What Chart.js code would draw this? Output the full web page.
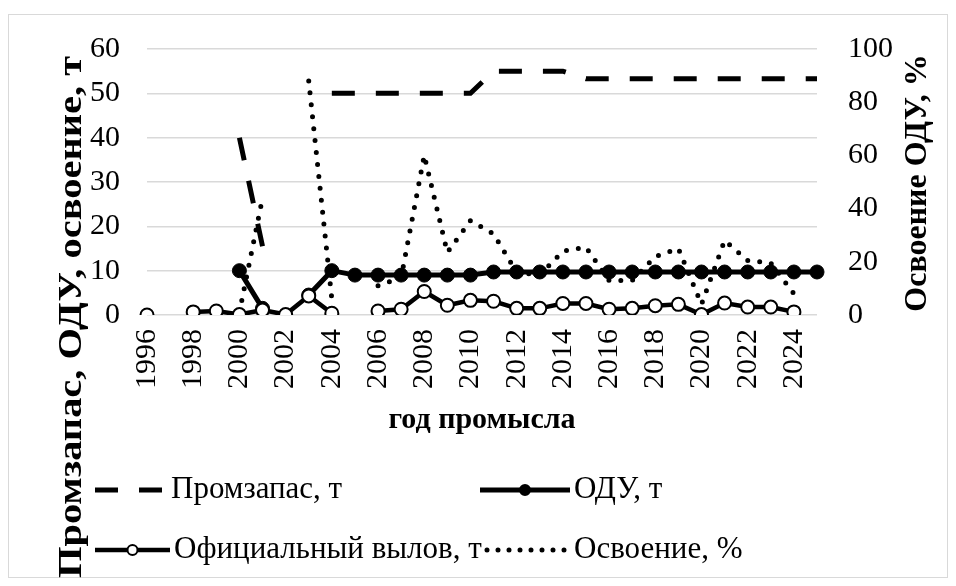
<!DOCTYPE html>
<html>
<head>
<meta charset="utf-8">
<script src="https://cdn.jsdelivr.net/npm/chart.js@4.4.0/dist/chart.umd.min.js"></script>
<style>
  html, body { margin: 0; padding: 0; background: #fff; }
  #wrap { position: relative; width: 956px; height: 586px; }
  #frame { position: absolute; left: 8px; top: 14px; width: 940px; height: 564px; border: 1.5px solid #d9d9d9; box-sizing: border-box; }
  canvas { position: absolute; left: 0; top: 0; }
</style>
</head>
<body>
<div id="wrap">
  <div id="frame"></div>
  <canvas id="chart" width="956" height="586"></canvas>
</div>
<script>
// годы промысла
const years = [1996, 1997, 1998, 1999, 2000, 2001, 2002, 2003, 2004, 2005,
  2006, 2007, 2008, 2009, 2010, 2011, 2012, 2013, 2014, 2015,
  2016, 2017, 2018, 2019, 2020, 2021, 2022, 2023, 2024, 2025]

// промзапас, т
const stock = [null, null, null, null, 40, 15.5, null, null, 50, 50,
  50, 50, 50, 50, 50, 55, 55, 55, 55, 53.3,
  53.3, 53.3, 53.3, 53.3, 53.3, 53.3, 53.3, 53.3, 53.3, 53.3]

// ОДУ, т
const tac = [null, null, null, null, 10, 1.5, null, 4.5, 10, 9,
  9, 9, 9, 9, 9, 9.7, 9.7, 9.7, 9.7, 9.7,
  9.7, 9.7, 9.7, 9.7, 9.7, 9.7, 9.7, 9.7, 9.7, 9.7]

// официальный вылов, т
const landings = [0, null, 0.7, 0.9, 0.1, 1.1, 0.1, 4.3, 0.4, null,
  0.9, 1.3, 5.3, 2.2, 3.3, 3.1, 1.5, 1.5, 2.6, 2.6,
  1.3, 1.5, 2.1, 2.4, 0.1, 2.7, 1.8, 1.8, 0.7, null]

// освоение ОДУ, %
const usage = [null, null, null, null, 1, 44, null, 88, 6, null,
  11, 14, 60, 23.5, 35.5, 30.5, 16, 15, 24, 25.5,
  13, 13, 22, 25, 4, 28, 20.5, 19.5, 8, null]

const serif = "'Liberation Serif', 'Times New Roman', serif"
Chart.defaults.font.family = serif
Chart.defaults.color = '#000'

// подписи осей и легенда рисуются вручную
const titlesAndLegend = {
  id: 'titlesAndLegend',
  afterDraw(chart) {
    const ctx = chart.ctx
    const area = chart.chartArea
    const sets = chart.data.datasets
    ctx.save()
    ctx.fillStyle = '#000'
    ctx.textBaseline = 'middle'

    ctx.font = 'bold 30px ' + serif
    ctx.textAlign = 'center'
    ctx.fillText('год промысла', (area.left + area.right) / 2, 420)

    // левая ось
    ctx.save()
    ctx.translate(72, 317)
    ctx.rotate(-Math.PI / 2)
    ctx.font = 'bold 34px ' + serif
    let t = 'Промзапас, ОДУ, освоение, т'
    let w = ctx.measureText(t).width
    ctx.scale(522 / w, 1)
    ctx.fillText(t, 0, 0)
    ctx.restore()

    // правая ось
    ctx.save()
    ctx.translate(918, 183)
    ctx.rotate(-Math.PI / 2)
    ctx.font = 'bold 32px ' + serif
    ctx.fillText('Освоение ОДУ, %', 0, 0)
    ctx.restore()

    // легенда
    const items = [
      { ds: 0, x0: 95, x1: 167, y: 490 },
      { ds: 1, x0: 480, x1: 570, y: 490 },
      { ds: 2, x0: 95, x1: 170, y: 550 },
      { ds: 3, x0: 487, x1: 570, y: 550 }
    ]
    ctx.font = '31px ' + serif
    ctx.textAlign = 'left'
    items.forEach(it => {
      const d = sets[it.ds]
      ctx.save()
      ctx.strokeStyle = d.borderColor
      ctx.lineWidth = d.borderWidth
      ctx.lineCap = d.borderCapStyle || 'butt'
      ctx.setLineDash(it.ds === 3 ? [0, 11] : (d.borderDash || []))
      ctx.beginPath()
      ctx.moveTo(it.x0, it.y)
      ctx.lineTo(it.x1, it.y)
      ctx.stroke()
      ctx.restore()
      if (d.pointRadius > 0) {
        ctx.save()
        ctx.beginPath()
        ctx.arc((it.x0 + it.x1) / 2, it.y, 5, 0, Math.PI * 2)
        ctx.fillStyle = d.pointBackgroundColor
        ctx.fill()
        ctx.lineWidth = 2
        ctx.strokeStyle = '#000'
        ctx.stroke()
        ctx.restore()
      }
      ctx.fillText(d.label, it.x1 + 4, it.y)
    })
    ctx.restore()
  }
}

new Chart(document.getElementById('chart'), {
  type: 'line',
  data: {
    labels: years,
    datasets: [
      {
        label: 'Промзапас, т',
        data: stock,
        yAxisID: 'y',
        borderColor: '#000',
        borderWidth: 5,
        borderDash: [23, 21],
        pointRadius: 0,
        tension: 0,
        order: 3
      },
      {
        label: 'ОДУ, т',
        data: tac,
        yAxisID: 'y',
        borderColor: '#000',
        borderWidth: 5,
        pointRadius: 7,
        pointBackgroundColor: '#000',
        pointBorderColor: '#000',
        pointBorderWidth: 1,
        tension: 0,
        order: 1
      },
      {
        label: 'Официальный вылов, т',
        data: landings,
        yAxisID: 'y',
        borderColor: '#000',
        borderWidth: 4.5,
        pointRadius: 6.5,
        pointBackgroundColor: '#fff',
        pointBorderColor: '#000',
        pointBorderWidth: 2,
        tension: 0,
        order: 0
      },
      {
        label: 'Освоение, %',
        data: usage,
        yAxisID: 'y1',
        borderColor: '#000',
        borderWidth: 5,
        borderDash: [0, 12],
        borderCapStyle: 'round',
        pointRadius: 0,
        tension: 0,
        order: 2
      }
    ]
  },
  options: {
    responsive: false,
    animation: false,
    layout: { padding: { left: 0, right: 0, top: 45, bottom: 0 } },
    plugins: { legend: { display: false }, tooltip: { enabled: false } },
    scales: {
      x: {
        grid: { display: false },
        border: { display: false },
        ticks: {
          autoSkip: false,
          minRotation: 90,
          maxRotation: 90,
          padding: 6,
          font: { size: 30 },
          callback: (v, i) => years[i] % 2 === 0 ? String(years[i]) : ''
        },
        afterFit: s => { s.height = 271 }
      },
      y: {
        position: 'left',
        min: 0,
        max: 60,
        ticks: { stepSize: 10, padding: 27, font: { size: 30 } },
        grid: { color: '#d9d9d9', lineWidth: 1.5, drawTicks: false },
        border: { display: false },
        afterFit: s => { s.width = 147 }
      },
      y1: {
        position: 'right',
        min: 0,
        max: 100,
        ticks: { stepSize: 20, padding: 31, font: { size: 30 } },
        grid: { display: false, drawTicks: false },
        border: { display: false },
        afterFit: s => { s.width = 139 }
      }
    }
  },
  plugins: [titlesAndLegend]
})
</script>
</body>
</html>
